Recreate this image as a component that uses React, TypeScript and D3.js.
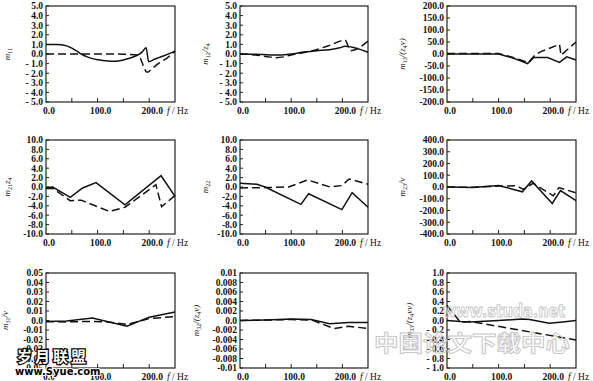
import React from "react";
import * as d3 from "d3";

// ---------- data ----------
const xTickValues = [0, 100, 200];
const xTickLabels = ["0.0", "100.0", "200.0"];
const xMinorTicks = [50, 100, 150, 200];

const yVals10 = [5, 4, 3, 2, 1, 0, -1, -2, -3, -4, -5];
const yLabs10 = ["5.0", "4.0", "3.0", "2.0", "1.0", "0.0", "- 1.0", "- 2.0", "- 3.0", "- 4.0", "- 5.0"];
const yVals200 = [200, 150, 100, 50, 0, -50, -100, -150, -200];
const yLabs200 = ["200.0", "150.0", "100.0", "50.0", "0.0", "-50.0", "-100.0", "-150.0", "-200.0"];
const yVals20 = [10, 8, 6, 4, 2, 0, -2, -4, -6, -8, -10];
const yLabs20 = ["10.0", "8.0", "6.0", "4.0", "2.0", "0.0", "-2.0", "-4.0", "-6.0", "-8.0", "-10.0"];
const yVals400 = [400, 300, 200, 100, 0, -100, -200, -300, -400];
const yLabs400 = ["400.0", "300.0", "200.0", "100.0", "0.0", "-100.0", "-200.0", "-300.0", "-400.0"];
const yVals005 = [0.05, 0.04, 0.03, 0.02, 0.01, 0, -0.01, -0.02, -0.03, -0.04, -0.05];
const yLabs005 = ["0.05", "0.04", "0.03", "0.02", "0.01", "0.0", "-0.01", "-0.02", "-0.03", "-0.04", "-0.05"];
const yVals001 = [0.01, 0.008, 0.006, 0.004, 0.002, 0, -0.002, -0.004, -0.006, -0.008, -0.01];
const yLabs001 = ["0.01", "0.008", "0.006", "0.004", "0.002", "0.0", "-0.002", "-0.004", "-0.006", "-0.008", "-0.01"];
const yVals1 = [1, 0.8, 0.6, 0.4, 0.2, 0, -0.2, -0.4, -0.6, -0.8, -1];
const yLabs1 = ["1.0", "0.8", "0.6", "0.4", "0.2", "0.0", "- 0.2", "- 0.4", "- 0.6", "- 0.8", "- 1.0"];

// m11
const m11SolidF = [0, 10, 20, 30, 40, 50, 60, 70, 80, 90, 100, 110, 120, 130, 140, 150, 160, 170, 180, 187, 194, 199, 210, 220, 230, 240, 250];
const m11Solid = [1.0, 1.0, 1.0, 0.97, 0.85, 0.62, 0.3, -0.05, -0.3, -0.48, -0.6, -0.68, -0.74, -0.76, -0.72, -0.62, -0.47, -0.28, -0.05, 0.25, 0.65, -0.8, -0.55, -0.35, -0.15, 0.07, 0.3];
const m11DashF = [0, 50, 100, 150, 178, 196, 205, 215, 225, 235, 250];
const m11Dash = [0, 0, 0, -0.02, -0.1, -1.9, -1.55, -1.1, -0.75, -0.4, 0.3];
// m12/z4
const m12SolidF = [0, 30, 60, 80, 100, 125, 150, 175, 195, 205, 250];
const m12Solid = [0, -0.02, -0.1, -0.1, 0, 0.2, 0.35, 0.45, 0.65, 0.8, 0.18];
const m12DashF = [0, 30, 50, 70, 85, 100, 125, 145, 175, 205, 216, 250];
const m12Dash = [0, -0.1, -0.25, -0.38, -0.3, -0.1, 0.15, 0.4, 0.9, 1.45, 0.35, 1.35];
// m13/(z4v)
const m13SolidF = [0, 50, 100, 125, 145, 156, 168, 195, 218, 232, 250];
const m13Solid = [0, 0, 0, -15, -30, -40, -15, -15, -35, -12, -25];
const m13DashF = [0, 50, 100, 125, 150, 158, 170, 182, 218, 221, 250];
const m13Dash = [2, 2, 2, -12, -30, -35, -5, 10, 40, -5, 50];
// m21 z4
const m21SolidF = [0, 13, 47, 71, 97, 153, 223, 250];
const m21Solid = [-0.1, 0, -2.2, -0.2, 0.95, -3.8, 2.4, -2.0];
const m21DashF = [0, 13, 47, 68, 123, 153, 182, 213, 224, 250];
const m21Dash = [-0.3, -0.3, -2.9, -2.8, -5.2, -4.3, -2.0, 0.5, -4.2, -1.8];
// m22
const m22SolidF = [0, 33, 49, 119, 134, 199, 219, 250];
const m22Solid = [0.8, 0.6, 0, -3.7, -1.45, -4.8, -1.2, -4.3];
const m22DashF = [0, 60, 95, 132, 176, 199, 213, 250];
const m22Dash = [-0.2, -0.1, 0, 1.5, 0, 0.3, 1.7, 0.6];
// m23/v
const m23SolidF = [0, 50, 100, 146, 164, 204, 220, 250];
const m23Solid = [0, -5, 12, -41, 52, -140, -30, -117];
const m23DashF = [0, 50, 100, 135, 148, 167, 206, 217, 250];
const m23Dash = [0, -3, 8, 10, -20, 32, -75, -5, -50];
// m31/v
const m31SolidF = [0, 40, 90, 157, 200, 250];
const m31Solid = [-0.001, -0.0005, 0.0025, -0.006, 0.0035, 0.009];
const m31DashF = [0, 40, 80, 120, 157, 200, 250];
const m31Dash = [-0.001, -0.0015, -0.001, -0.0015, -0.0042, 0.002, 0.0042];
// m32/(z4v)
const m32SolidF = [0, 50, 100, 139, 175, 212, 250];
const m32Solid = [0, 0.0001, 0.0003, 0.0002, -0.0007, -0.0004, -0.0004];
const m32DashF = [0, 50, 100, 140, 184, 212, 250];
const m32Dash = [0, 0.0001, 0.0002, 0.0001, -0.0017, -0.0012, -0.0017];
// m33/(z4vv)
const m33SolidF = [0, 26, 45, 100, 146, 160, 198, 224, 250];
const m33Solid = [0, -0.02, -0.03, 0, 0.03, 0.02, -0.06, -0.03, 0];
const m33DashF = [0, 26, 45, 250];
const m33Dash = [0.32, -0.04, -0.02, -0.41];

// ---------- layout ----------
const colL = [46, 240, 447];
const colR = [175, 368, 576];
const rowT = [6, 140, 273];
const rowB = [102, 234, 368];

type Part = [string, string?];
interface Panel {
  row: number; col: number; labelX: number;
  yDomain: [number, number]; yVals: number[]; yLabs: string[];
  label: Part[];
  solidF: number[]; solid: number[]; dashF: number[]; dash: number[];
  smooth?: boolean;
}

const panels: Panel[] = [
  { row: 0, col: 0, labelX: 10, yDomain: [-5, 5], yVals: yVals10, yLabs: yLabs10, label: [["m", "11"]], solidF: m11SolidF, solid: m11Solid, dashF: m11DashF, dash: m11Dash, smooth: true },
  { row: 0, col: 1, labelX: 208, yDomain: [-5, 5], yVals: yVals10, yLabs: yLabs10, label: [["m", "12"], ["/z", "4"]], solidF: m12SolidF, solid: m12Solid, dashF: m12DashF, dash: m12Dash, smooth: true },
  { row: 0, col: 2, labelX: 405, yDomain: [-200, 200], yVals: yVals200, yLabs: yLabs200, label: [["m", "13"], ["/(z", "4"], ["v)"]], solidF: m13SolidF, solid: m13Solid, dashF: m13DashF, dash: m13Dash },
  { row: 1, col: 0, labelX: 10, yDomain: [-10, 10], yVals: yVals20, yLabs: yLabs20, label: [["m", "21"], ["z", "4"]], solidF: m21SolidF, solid: m21Solid, dashF: m21DashF, dash: m21Dash },
  { row: 1, col: 1, labelX: 208, yDomain: [-10, 10], yVals: yVals20, yLabs: yLabs20, label: [["m", "22"]], solidF: m22SolidF, solid: m22Solid, dashF: m22DashF, dash: m22Dash },
  { row: 1, col: 2, labelX: 405, yDomain: [-400, 400], yVals: yVals400, yLabs: yLabs400, label: [["m", "23"], ["/v"]], solidF: m23SolidF, solid: m23Solid, dashF: m23DashF, dash: m23Dash },
  { row: 2, col: 0, labelX: 8, yDomain: [-0.05, 0.05], yVals: yVals005, yLabs: yLabs005, label: [["m", "31"], ["/v"]], solidF: m31SolidF, solid: m31Solid, dashF: m31DashF, dash: m31Dash },
  { row: 2, col: 1, labelX: 199, yDomain: [-0.01, 0.01], yVals: yVals001, yLabs: yLabs001, label: [["m", "32"], ["/(z", "4"], ["v)"]], solidF: m32SolidF, solid: m32Solid, dashF: m32DashF, dash: m32Dash },
  { row: 2, col: 2, labelX: 412, yDomain: [-1, 1], yVals: yVals1, yLabs: yLabs1, label: [["m", "33"], ["/(z", "4"], ["vv)"]], solidF: m33SolidF, solid: m33Solid, dashF: m33DashF, dash: m33Dash },
];

const FONT = "'Liberation Serif', 'DejaVu Serif', serif";

function PanelView({ p }: { p: Panel }) {
  const L = colL[p.col], R = colR[p.col], T = rowT[p.row], B = rowB[p.row];
  const x = d3.scaleLinear().domain([0, 250]).range([L, R]);
  const y = d3.scaleLinear().domain(p.yDomain).range([B, T]);
  const line = d3.line<[number, number]>()
    .x(d => x(d[0])).y(d => y(d[1]))
    .curve(p.smooth ? d3.curveMonotoneX : d3.curveLinear);
  const solidPts = p.solidF.map((f, i) => [f, p.solid[i]] as [number, number]);
  const dashPts = p.dashF.map((f, i) => [f, p.dash[i]] as [number, number]);
  const cy = (T + B) / 2;
  return (
    <g>
      <rect x={L} y={T} width={R - L} height={B - T} fill="none" stroke="#222" strokeWidth={1.2} />
      {xMinorTicks.map(v => (
        <line key={"xt" + v} x1={x(v)} x2={x(v)} y1={B} y2={B - 4} stroke="#222" strokeWidth={1} />
      ))}
      {p.yVals.map(v => (
        <line key={"yt" + v} x1={L} x2={L + 3} y1={y(v)} y2={y(v)} stroke="#222" strokeWidth={1} />
      ))}
      {p.yVals.map((v, i) => (
        <text key={"yl" + v} x={L - 3} y={y(v) + 3.3} textAnchor="end" fontSize={9.5} fontWeight="bold" fontFamily={FONT} fill="#111">{p.yLabs[i]}</text>
      ))}
      {xTickValues.map((v, i) => (
        <text key={"xl" + v} x={x(v) + 3} y={B + 12} textAnchor="middle" fontSize={9.5} fontWeight="bold" fontFamily={FONT} fill="#111">{xTickLabels[i]}</text>
      ))}
      <text x={R - 8} y={B + 12} fontSize={9.5} fontFamily={FONT} fill="#111">
        <tspan fontStyle="italic">f</tspan>
        <tspan> / Hz</tspan>
      </text>
      <text transform={`translate(${p.labelX},${cy}) rotate(-90)`} textAnchor="middle" fontSize={9} fontFamily={FONT} fill="#111">
        {p.label.map((part, i) => (
          <React.Fragment key={i}>
            <tspan fontStyle="italic" dy={i === 0 ? 0 : -2}>{part[0]}</tspan>
            {part[1] ? <tspan fontSize={6} dy={2}>{part[1]}</tspan> : null}
          </React.Fragment>
        ))}
      </text>
      <path d={line(dashPts) || ""} fill="none" stroke="#111" strokeWidth={1.5} strokeDasharray="8,4" />
      <path d={line(solidPts) || ""} fill="none" stroke="#111" strokeWidth={1.5} />
    </g>
  );
}

export default function App() {
  return (
    <svg width={593} height={381} style={{ position: "absolute", left: 0, top: 0, background: "#fff" }}>
      <rect x={0} y={0} width={593} height={381} fill="#fff" />
      {panels.map((p, i) => <PanelView key={i} p={p} />)}
      {/* watermarks */}
      <text x={374} y={351} fontSize={22} textLength={196} lengthAdjust="spacingAndGlyphs" fontFamily="'Noto Sans CJK SC', sans-serif" fontWeight="bold" fill="none" stroke="#c8c8c8" strokeWidth={1}>中国论文下载中心</text>
      <text x={443} y={317} fontSize={17} textLength={122} lengthAdjust="spacingAndGlyphs" fontFamily="'DejaVu Sans', sans-serif" fontWeight="bold" fill="none" stroke="#c8c8c8" strokeWidth={1}>www.studa.net</text>
      <text x={17} y={362} fontSize={15} fontFamily="'Noto Sans CJK SC', sans-serif" fontWeight="bold" fill="#fff" stroke="#000" strokeWidth={2.5} paintOrder="stroke" letterSpacing={3}>岁月联盟</text>
      <text x={15} y={375} fontSize={10} fontFamily="'DejaVu Sans', sans-serif" fontWeight="bold" fill="#000" stroke="#fff" strokeWidth={2} paintOrder="stroke">www.Syue.com</text>
    </svg>
  );
}
